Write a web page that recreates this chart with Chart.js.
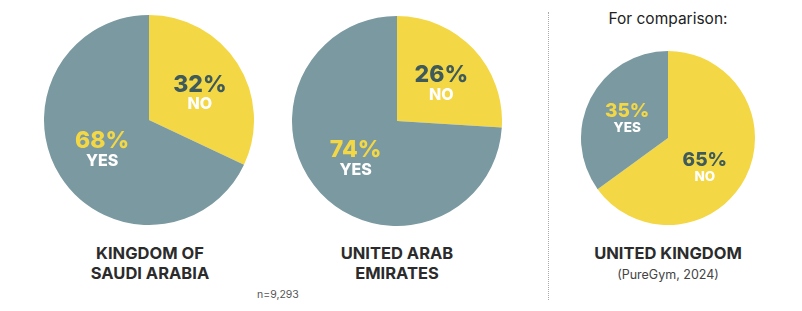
<!DOCTYPE html>
<html>
<head>
<meta charset="utf-8">
<script src="https://cdn.jsdelivr.net/npm/chart.js@4"></script>
<style>
  html, body { margin: 0; padding: 0; background: #fff; }
  body { width: 802px; height: 311px; position: relative; overflow: hidden; font-family: Inter, "Open Sans", sans-serif; }
  .pie { position: absolute; }
  .title { position: absolute; text-align: center; font-weight: 700; font-size: 16.5px; line-height: 20px; color: #2b2b2b; width: 240px; }
  .sub { font-weight: 400; font-size: 12.5px; line-height: 16px; color: #444; }
  .note { position: absolute; font-size: 10.5px; color: #555; }
  .cmp { position: absolute; font-size: 15.5px; color: #222; width: 200px; text-align: center; }
  .divider { position: absolute; left: 548px; top: 12px; height: 288px; border-left: 1.5px dotted #aaa; }
</style>
</head>
<body>
<div class="pie" style="left:44px;top:15px;width:210px;height:210px"><canvas id="ksa"></canvas></div>
<div class="pie" style="left:292px;top:16px;width:210px;height:210px"><canvas id="uae"></canvas></div>
<div class="pie" style="left:581px;top:51px;width:174px;height:174px"><canvas id="uk"></canvas></div>

<div class="title" style="left:30px;top:243px">KINGDOM OF<br>SAUDI ARABIA</div>
<div class="title" style="left:277px;top:243px">UNITED ARAB<br>EMIRATES</div>
<div class="title" style="left:548px;top:243px">UNITED KINGDOM<br><span class="sub">(PureGym, 2024)</span></div>
<div class="note" style="left:257px;top:288px">n=9,293</div>
<div class="cmp" style="left:568px;top:9px">For comparison:</div>
<div class="divider"></div>

<script>
// Answer order: NO first (starts at 12 o'clock), then YES
const answers = ['NO', 'YES'];
const saudiArabia = [32, 68];
const unitedArabEmirates = [26, 74];
const unitedKingdom = [65, 35];

const YELLOW = '#F4D744';
const TEAL = '#7A99A0';
const DARK = '#3E5A5B';

// Writes "NN%" and the answer word inside each slice
const sliceLabels = {
  id: 'sliceLabels',
  afterDatasetsDraw(chart, args, opts) {
    const ctx = chart.ctx;
    const ds = chart.data.datasets[0];
    chart.getDatasetMeta(0).data.forEach((arc, i) => {
      const p = arc.getProps(['x', 'y', 'startAngle', 'endAngle', 'outerRadius'], true);
      const mid = (p.startAngle + p.endAngle) / 2;
      const nudge = opts.nudge[i];
      const cx = p.x + Math.cos(mid) * p.outerRadius * 0.54 + nudge[0];
      const cy = p.y + Math.sin(mid) * p.outerRadius * 0.54 + nudge[1];
      const isNo = chart.data.labels[i] === 'NO';
      ctx.save();
      ctx.textAlign = 'center';
      ctx.textBaseline = 'middle';
      ctx.font = '800 ' + opts.big + 'px Inter, sans-serif';
      ctx.fillStyle = isNo ? DARK : YELLOW;
      ctx.fillText(ds.data[i] + '%', cx, cy - opts.gap);
      ctx.font = '800 ' + opts.small + 'px Inter, sans-serif';
      ctx.fillStyle = '#ffffff';
      ctx.fillText(chart.data.labels[i], cx, cy + opts.gap);
      ctx.restore();
    });
  }
};

function makePie(id, values, big, small, gap, nudge) {
  new Chart(document.getElementById(id), {
    type: 'pie',
    data: {
      labels: answers,
      datasets: [{ data: values, backgroundColor: [YELLOW, TEAL], borderWidth: 0 }]
    },
    options: {
      responsive: true,
      maintainAspectRatio: false,
      animation: false,
      layout: { padding: 0 },
      plugins: {
        legend: { display: false },
        tooltip: { enabled: false },
        sliceLabels: { big, small, gap, nudge }
      }
    },
    plugins: [sliceLabels]
  });
}

makePie('ksa', saudiArabia, 23, 16, 10, [[3, 5], [1, 1]]);
makePie('uae', unitedArabEmirates, 23, 16, 10, [[3, 3], [0, 0]]);
makePie('uk', unitedKingdom, 19, 13.5, 8.5, [[-5, 9], [1, 3]]);
</script>
</body>
</html>
